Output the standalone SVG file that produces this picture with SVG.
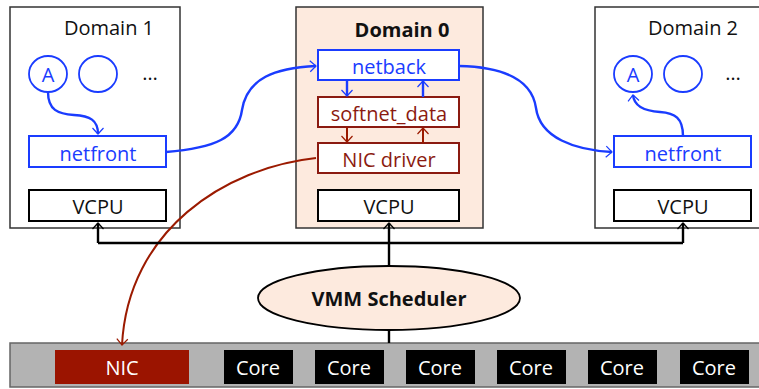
<svg xmlns="http://www.w3.org/2000/svg" width="759" height="389" viewBox="0 0 759 389">
<defs>
<marker id="ab" viewBox="0 0 10 10" refX="9" refY="5" markerWidth="5" markerHeight="5" orient="auto" markerUnits="userSpaceOnUse" overflow="visible">
<path d="M-3,-6 L9,5 L-3,16" fill="none" stroke="#1a3cff" stroke-width="2.4"/>
</marker>
<marker id="ar" viewBox="0 0 10 10" refX="9" refY="5" markerWidth="5" markerHeight="5" orient="auto" markerUnits="userSpaceOnUse" overflow="visible">
<path d="M-3,-6 L9,5 L-3,16" fill="none" stroke="#9b1a00" stroke-width="2.4"/>
</marker>
<marker id="ak" viewBox="0 0 10 10" refX="9" refY="5" markerWidth="5" markerHeight="5" orient="auto" markerUnits="userSpaceOnUse" overflow="visible">
<path d="M-3,-6 L9,5 L-3,16" fill="none" stroke="#000" stroke-width="2.6"/>
</marker>
</defs>
<style>
text{font-family:"Open Sans","Liberation Sans",sans-serif;text-anchor:middle}
.dom{fill:#fff;stroke:#333;stroke-width:1.5}
.d0{fill:#fdeade;stroke:#333;stroke-width:1.5}
.bl{fill:#fff;stroke:#1a3cff;stroke-width:2}
.rd{fill:#fff;stroke:#8b1a10;stroke-width:2}
.vc{fill:#fff;stroke:#000;stroke-width:2}
.tb{fill:#1a3cff;font-size:20px}
.tr{fill:#8b1a10;font-size:20px}
.tk{fill:#111;font-size:20px}
.cb{fill:none;stroke:#1a3cff;stroke-width:2.4}
.cr{fill:none;stroke:#9b1a00;stroke-width:2}
.ck{fill:none;stroke:#000;stroke-width:2.4}
.core{fill:#000}
.ct{fill:#fff;font-size:20px}
</style>
<g id="domain1">
<rect class="dom" x="10" y="7" width="170" height="221"/>
<text class="tk" x="109" y="35">Domain 1</text>
<ellipse cx="48" cy="74" rx="19" ry="18" fill="#fff" stroke="#1a3cff" stroke-width="1.8"/>
<text class="tb" x="48" y="82">A</text>
<ellipse cx="98" cy="74" rx="19" ry="18" fill="#fff" stroke="#1a3cff" stroke-width="1.8"/>
<text class="tk" x="151" y="80" letter-spacing="2">…</text>
<rect class="bl" x="29" y="136" width="137" height="31"/>
<text class="tb" x="98" y="161">netfront</text>
<rect class="vc" x="29" y="190" width="137" height="31"/>
<text class="tk" x="98" y="214">VCPU</text>
</g>
<g id="domain0">
<rect class="d0" x="296" y="7" width="187" height="221"/>
<text class="tk" x="402" y="37" font-weight="bold">Domain 0</text>
<rect class="bl" x="318" y="50" width="141" height="30"/>
<text class="tb" x="389" y="74">netback</text>
<rect class="rd" x="318" y="97" width="141" height="30"/>
<text class="tr" x="389" y="121">softnet_data</text>
<rect class="rd" x="318" y="143" width="141" height="30"/>
<text class="tr" x="389" y="167">NIC driver</text>
<rect class="vc" x="318" y="190" width="141" height="31"/>
<text class="tk" x="389" y="214">VCPU</text>
</g>
<g id="domain2">
<rect class="dom" x="595" y="7" width="166" height="221"/>
<text class="tk" x="693" y="35">Domain 2</text>
<ellipse cx="633" cy="74" rx="19" ry="18" fill="#fff" stroke="#1a3cff" stroke-width="1.8"/>
<text class="tb" x="633" y="82">A</text>
<ellipse cx="683" cy="74" rx="19" ry="18" fill="#fff" stroke="#1a3cff" stroke-width="1.8"/>
<text class="tk" x="734" y="80" letter-spacing="2">…</text>
<rect class="bl" x="614" y="136" width="137" height="31"/>
<text class="tb" x="683" y="161">netfront</text>
<rect class="vc" x="614" y="190" width="137" height="31"/>
<text class="tk" x="683" y="214">VCPU</text>
</g>
<g id="scheduler">
<ellipse cx="389" cy="298" rx="131" ry="32" fill="#fdeade" stroke="#000" stroke-width="1.8"/>
<text class="tk" x="389" y="306" font-weight="bold">VMM Scheduler</text>
</g>
<g id="hardware">
<rect x="10" y="343" width="752" height="44" fill="#b3b3b3" stroke="#666" stroke-width="1.5"/>
<rect x="55" y="350" width="134" height="34" fill="#9b1400"/>
<text class="ct" x="122" y="375">NIC</text>
<rect class="core" x="224" y="350" width="69" height="34"/><text class="ct" x="258" y="375">Core</text>
<rect class="core" x="315" y="350" width="69" height="34"/><text class="ct" x="349" y="375">Core</text>
<rect class="core" x="406" y="350" width="69" height="34"/><text class="ct" x="440" y="375">Core</text>
<rect class="core" x="497" y="350" width="69" height="34"/><text class="ct" x="531" y="375">Core</text>
<rect class="core" x="588" y="350" width="69" height="34"/><text class="ct" x="622" y="375">Core</text>
<rect class="core" x="680" y="350" width="69" height="34"/><text class="ct" x="714" y="375">Core</text>
</g>
<g id="connectors">
<path class="cb" d="M48,92 C48,110 58,114 74,115 C90,116 98,120 98,134" marker-end="url(#ab)"/>
<path class="cb" d="M683,136 C683,118 675,113 660,112 C643,111 634,106 633,95" marker-end="url(#ab)"/>
<path class="cb" d="M166,152 C215,148 238,138 242,110 C247,78 275,68 316,66" marker-end="url(#ab)"/>
<path class="cb" d="M459,66 C505,67 532,80 536,108 C540,138 575,150 612,152" marker-end="url(#ab)"/>
<path class="cb" d="M347,80 L347,96" marker-end="url(#ab)"/>
<path class="cb" d="M423,97 L423,81" marker-end="url(#ab)"/>
<path class="cr" d="M347,127 L347,142" marker-end="url(#ar)"/>
<path class="cr" d="M423,143 L423,128" marker-end="url(#ar)"/>
<path class="cr" d="M316,158 C225,168 128,230 122,345" marker-end="url(#ar)"/>
<path class="ck" d="M98,243 L683,243"/>
<path class="ck" d="M98,243 L98,223" marker-end="url(#ak)"/>
<path class="ck" d="M389,266 L389,223" marker-end="url(#ak)"/>
<path class="ck" d="M683,243 L683,223" marker-end="url(#ak)"/>
<path class="ck" d="M389,330 L389,343"/>
</g>
</svg>
